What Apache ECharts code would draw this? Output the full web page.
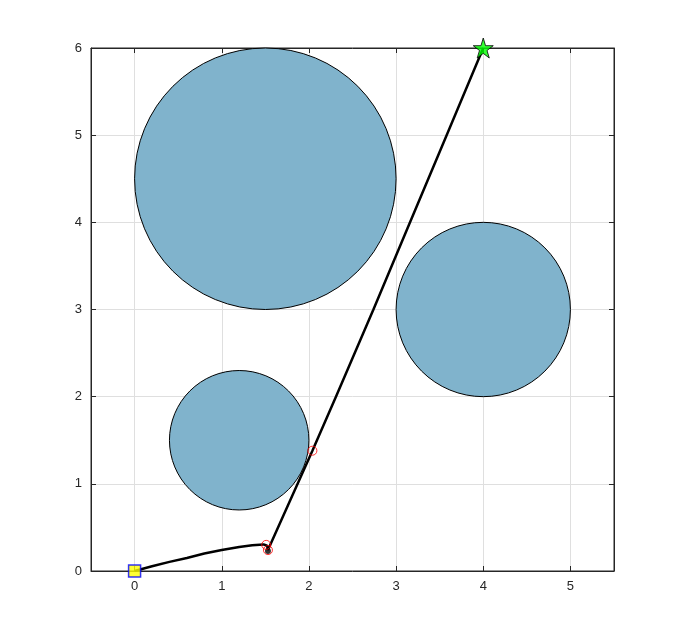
<!DOCTYPE html>
<html>
<head>
<meta charset="utf-8">
<script src="https://cdn.jsdelivr.net/npm/echarts@6/dist/echarts.min.js"></script>
<style>
  html, body { margin: 0; padding: 0; background: #fff; }
  #chart { width: 681px; height: 642px; }
</style>
</head>
<body>
<div id="chart"></div>
<script>
// obstacles: [x, y, radius]
var obstacles = [[1.5, 4.5, 1.5], [4, 3, 1], [1.2, 1.5, 0.8]];
// planned path
var pathPts = [[0, 0], [0.2, 0.055], [0.4, 0.105], [0.6, 0.15], [0.8, 0.2], [1.0, 0.24],
  [1.2, 0.275], [1.35, 0.295], [1.48, 0.305], [1.52, 0.29], [1.53, 0.24], [2.04, 1.38],
  [2.31, 2], [2.74, 3], [3.16, 4], [3.58, 5], [4, 6]];
var waypoints = [[1.51, 0.30], [1.53, 0.24], [2.04, 1.38]];
var hookPt = [[1.53, 0.23]];
var startPt = [[0, 0]];
var goalPt = [[4, 6]];
var tickVals = [0, 1, 2, 3, 4, 5];

var axisColor = "#262626";
var font = "Liberation Sans, Arial, sans-serif";

var chart = echarts.init(document.getElementById("chart"));
chart.setOption({
  animation: false,
  grid: { left: 91, right: 67, top: 48, bottom: 71, show: true, borderColor: axisColor, borderWidth: 1 },
  xAxis: [
    {
      type: "value", min: -0.5, max: 5.5,
      axisLine: { show: true, onZero: false, lineStyle: { color: axisColor } },
      axisTick: { show: true, inside: true, length: 5, customValues: tickVals, lineStyle: { color: axisColor } },
      axisLabel: { customValues: tickVals, color: axisColor, fontSize: 13, fontFamily: font, margin: 9 },
      splitLine: { show: true, lineStyle: { color: "#dfdfdf" } }
    },
    {
      type: "value", position: "top", min: -0.5, max: 5.5,
      axisLine: { show: true, onZero: false, lineStyle: { color: axisColor } },
      axisTick: { show: true, inside: true, length: 5, customValues: tickVals, lineStyle: { color: axisColor } },
      axisLabel: { show: false },
      splitLine: { show: false }
    }
  ],
  yAxis: [
    {
      type: "value", min: 0, max: 6, interval: 1,
      axisLine: { show: true, onZero: false, lineStyle: { color: axisColor } },
      axisTick: { show: true, inside: true, length: 5, lineStyle: { color: axisColor } },
      axisLabel: { color: axisColor, fontSize: 13, fontFamily: font, margin: 9 },
      splitLine: { show: true, lineStyle: { color: "#dfdfdf" } }
    },
    {
      type: "value", position: "right", min: 0, max: 6, interval: 1,
      axisLine: { show: true, onZero: false, lineStyle: { color: axisColor } },
      axisTick: { show: true, inside: true, length: 5, lineStyle: { color: axisColor } },
      axisLabel: { show: false },
      splitLine: { show: false }
    }
  ],
  series: [
    {
      type: "custom",
      data: obstacles,
      z: 2,
      renderItem: function (params, api) {
        var c = api.coord([api.value(0), api.value(1)]);
        var r = api.size([api.value(2), 0])[0];
        return {
          type: "circle",
          shape: { cx: c[0], cy: c[1], r: r },
          style: { fill: "#80b3cc", stroke: "#000", lineWidth: 1 }
        };
      }
    },
    {
      type: "line",
      data: pathPts,
      showSymbol: false,
      z: 3,
      lineStyle: { color: "#000", width: 2.5 }
    },
    {
      type: "scatter",
      data: hookPt,
      symbol: "circle",
      symbolSize: 6,
      z: 4,
      itemStyle: { color: "#000" }
    },
    {
      type: "scatter",
      data: waypoints,
      symbol: "circle",
      symbolSize: 9,
      z: 4,
      itemStyle: { color: "transparent", borderColor: "#ff0000", borderWidth: 1 },
      emphasis: { disabled: true }
    },
    {
      type: "scatter",
      data: startPt,
      symbol: "rect",
      symbolSize: 12,
      z: 5,
      itemStyle: { color: "#ffff00", borderColor: "#0000ff", borderWidth: 1.5 }
    },
    {
      type: "scatter",
      data: goalPt,
      symbol: "path://M50,0 L61,35 L98,35 L68,57 L79,91 L50,70 L21,91 L32,57 L2,35 L39,35 Z",
      symbolSize: 20,
      z: 5,
      itemStyle: { color: "#00ff00", borderColor: "#000", borderWidth: 1 }
    }
  ]
});
</script>
</body>
</html>
